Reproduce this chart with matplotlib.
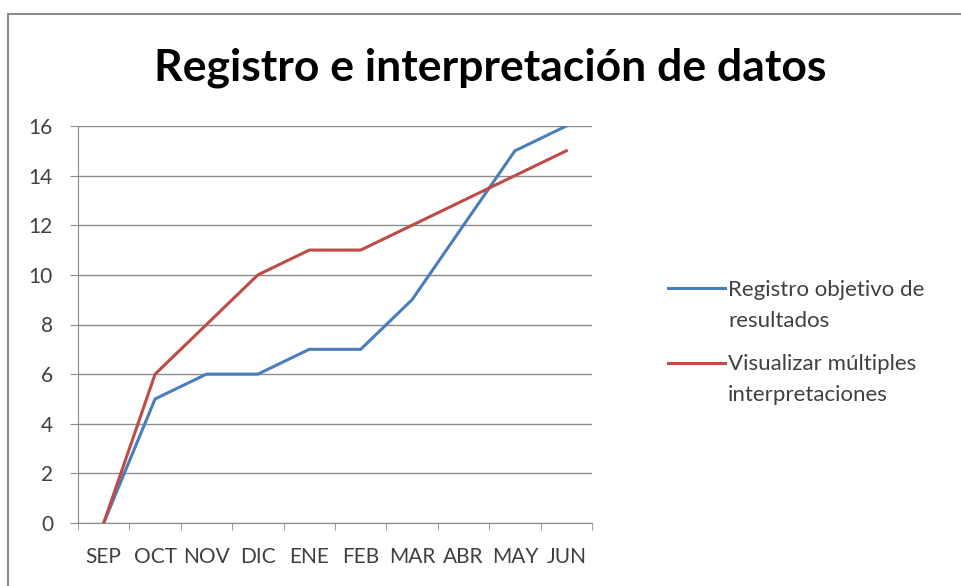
import matplotlib
matplotlib.use("Agg")
import matplotlib.pyplot as plt
from matplotlib.patches import Rectangle
from matplotlib.lines import Line2D

months = ["SEP", "OCT", "NOV", "DIC", "ENE", "FEB", "MAR", "ABR", "MAY", "JUN"]
registro = [0, 5, 6, 6, 7, 7, 9, 12, 15, 16]
visualizar = [0, 6, 8, 10, 11, 11, 12, 13, 14, 15]
labels = [["Registro objetivo de", "resultados"], ["Visualizar múltiples", "interpretaciones"]]
colors = ["#4A7EBB", "#BE4B48"]
title = "Registro e interpretación de datos"

plt.rcParams['font.family'] = ['Lato', 'DejaVu Sans']
W, H = 962, 586
fig = plt.figure(figsize=(W / 100, H / 100), dpi=100)
fig.patches.append(Rectangle((8 / W, -0.01), 1.0, 1 - 14 / H + 0.01, transform=fig.transFigure,
                             fill=False, edgecolor="#8c8c8c", linewidth=1.5))

ax = fig.add_axes([78 / W, 1 - 523 / H, (592 - 78) / W, (523 - 126) / H])
x = list(range(len(months)))
ax.plot(x, registro, color=colors[0], linewidth=2.2, solid_joinstyle='miter')
ax.plot(x, visualizar, color=colors[1], linewidth=2.2, solid_joinstyle='miter')

ax.set_xlim(-0.5, len(months) - 0.5)
ax.set_ylim(0, 16)
ax.set_yticks(range(0, 17, 2))
ax.set_xticks(x)
ax.set_xticklabels(months)
ax.set_xticks([i - 0.5 for i in range(len(months) + 1)], minor=True)
ax.tick_params(axis='x', which='major', length=0, pad=17, labelsize=15, labelcolor="#404040")
ax.tick_params(axis='x', which='minor', length=5, color="#8c8c8c", direction='out')
ax.tick_params(axis='y', length=6, color="#8c8c8c", pad=12, labelsize=15, labelcolor="#404040")
ax.grid(axis='y', color="#8c8c8c", linewidth=1.0)
ax.set_axisbelow(True)
for s in ["top", "right"]:
    ax.spines[s].set_visible(False)
ax.spines["left"].set_color("#8c8c8c")
ax.spines["bottom"].set_color("#8c8c8c")

fig.text(490 / W, 1 - 80 / H, title, ha='center', va='baseline', fontsize=32, fontweight='bold', color="black")

# legend
line_y = [288, 363]
base_y = [[296, 327], [370, 401]]
for c, lab, ly, bys in zip(colors, labels, line_y, base_y):
    fig.add_artist(Line2D([668 / W, 725 / W], [1 - ly / H, 1 - ly / H], transform=fig.transFigure,
                          color=c, linewidth=2.2))
    for t, by in zip(lab, bys):
        fig.text(728 / W, 1 - by / H, t, ha='left', va='baseline', fontsize=16, color="#404040")

fig.savefig("out.png", dpi=100)
